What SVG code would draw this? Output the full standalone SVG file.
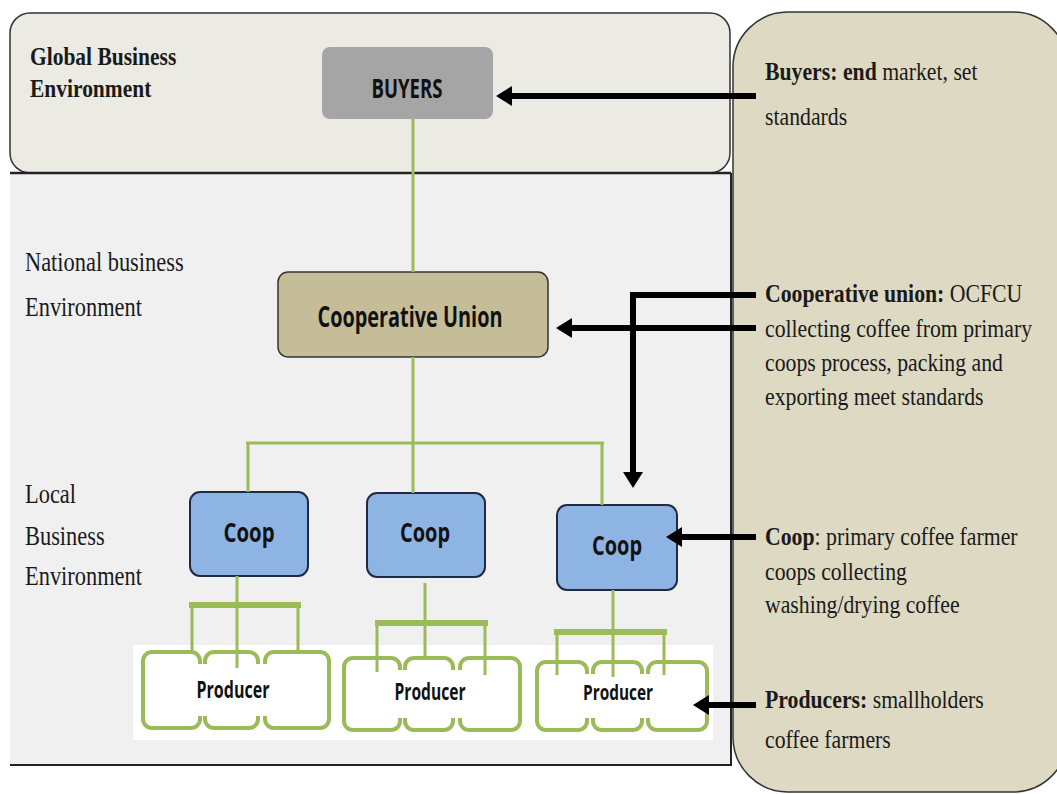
<svg xmlns="http://www.w3.org/2000/svg" width="1057" height="794" viewBox="0 0 1057 794">
<defs>
<style>
.lbl{font-family:"Liberation Serif","Times New Roman",serif;fill:#1a1a1a}
.b{font-weight:bold}
.box{font-family:"Open Sans","Liberation Sans",sans-serif;font-weight:bold;fill:#111;text-anchor:middle}
.g{stroke:#9bbb59;fill:none;stroke-width:3}
.gb{stroke:#9bbb59;fill:none;stroke-width:6}
.arr{stroke:#000;stroke-width:6;fill:none}
.prod{fill:#fff;stroke:#9bbb59;stroke-width:4}
.coop{fill:#8db4e2;stroke:#1f2a44;stroke-width:2}
</style>
<marker id="ah" markerUnits="userSpaceOnUse" markerWidth="16" markerHeight="20" refX="0" refY="10" orient="auto">
<path d="M0,0 L16,10 L0,20 z" fill="#000"/>
</marker>
</defs>
<rect width="1057" height="794" fill="#fff"/>
<g id="panels">
<rect x="733" y="12" width="335" height="780" rx="55" ry="55" fill="#ddd9c3" stroke="#333" stroke-width="1.5"/>
<rect x="10" y="173" width="721" height="592" fill="#f0f0f0"/>
<path d="M731,173 V765 H10" fill="none" stroke="#222" stroke-width="2"/>
<rect x="10" y="13" width="720" height="160" rx="20" ry="20" fill="#ecebe3" stroke="#333" stroke-width="1.5"/>
<line x1="10" y1="173" x2="731" y2="173" stroke="#222" stroke-width="2.5"/>
<rect x="133" y="645" width="580" height="95" fill="#fff"/>
</g>
<g id="left-labels">
<g transform="translate(30,0) scale(0.86,1)">
<text class="lbl b" x="0" y="65" font-size="25">Global Business</text>
<text class="lbl b" x="0" y="97" font-size="25">Environment</text>
</g>
<g transform="translate(25,0) scale(0.83,1)">
<text class="lbl" x="0" y="271" font-size="27">National business</text>
<text class="lbl" x="0" y="316" font-size="27">Environment</text>
<text class="lbl" x="0" y="503" font-size="27">Local</text>
<text class="lbl" x="0" y="545" font-size="27">Business</text>
<text class="lbl" x="0" y="585" font-size="27">Environment</text>
</g>
</g>
<g id="buyers">
<rect x="322" y="47" width="171" height="72" rx="8" fill="#a5a5a5"/>
<text class="box" x="407" y="98" font-size="27" textLength="71" lengthAdjust="spacingAndGlyphs">BUYERS</text>
</g>
<g id="union">
<rect x="278" y="272" width="270" height="85" rx="10" fill="#c4bd97" stroke="#333" stroke-width="1.5"/>
<text class="box" x="410" y="327" font-size="28" textLength="185" lengthAdjust="spacingAndGlyphs">Cooperative Union</text>
</g>
<g id="coop1">
<rect class="coop" x="190" y="492" width="118" height="84" rx="10"/>
<text class="box" x="249" y="542" font-size="26" textLength="51" lengthAdjust="spacingAndGlyphs">Coop</text>
</g>
<g id="coop2">
<rect class="coop" x="367" y="493" width="118" height="84" rx="10"/>
<text class="box" x="425" y="542" font-size="26" textLength="50" lengthAdjust="spacingAndGlyphs">Coop</text>
</g>
<g id="coop3">
<rect class="coop" x="557" y="505" width="120" height="85" rx="10"/>
<text class="box" x="617" y="555" font-size="26" textLength="50" lengthAdjust="spacingAndGlyphs">Coop</text>
</g>
<g id="producers1">
<rect class="prod" x="143" y="652" width="57" height="76" rx="9"/>
<rect class="prod" x="205" y="652" width="53" height="76" rx="9"/>
<rect class="prod" x="265" y="652" width="64" height="76" rx="9"/>
<rect x="147" y="664" width="178" height="52" fill="#fff"/>
<line class="g" x1="237" y1="576" x2="237" y2="668" stroke-width="5"/>
<line class="gb" x1="189" y1="605" x2="301" y2="605"/>
<line class="g" x1="192" y1="605" x2="192" y2="652" stroke-width="4"/>
<line class="g" x1="298" y1="605" x2="298" y2="652" stroke-width="4"/>
<text class="box" x="233" y="698" font-size="23" textLength="73" lengthAdjust="spacingAndGlyphs">Producer</text>
</g>
<g id="producers2">
<rect class="prod" x="344" y="658" width="56" height="72" rx="9"/>
<rect class="prod" x="405" y="658" width="48" height="72" rx="9"/>
<rect class="prod" x="460" y="658" width="60" height="72" rx="9"/>
<rect x="348" y="670" width="168" height="48" fill="#fff"/>
<line class="g" x1="425" y1="583" x2="425" y2="660" stroke-width="5"/>
<line class="gb" x1="375" y1="623" x2="488" y2="623" stroke-width="7"/>
<line class="g" x1="377" y1="623" x2="377" y2="672" stroke-width="4"/>
<line class="g" x1="485" y1="623" x2="485" y2="675" stroke-width="4"/>
<text class="box" x="430" y="700" font-size="23" textLength="71" lengthAdjust="spacingAndGlyphs">Producer</text>
</g>
<g id="producers3">
<rect class="prod" x="537" y="662" width="50" height="68" rx="9"/>
<rect class="prod" x="593" y="662" width="49" height="68" rx="9"/>
<rect class="prod" x="648" y="662" width="59" height="68" rx="9"/>
<rect x="541" y="674" width="162" height="44" fill="#fff"/>
<line class="g" x1="613" y1="590" x2="613" y2="677" stroke-width="5"/>
<line class="gb" x1="554" y1="632" x2="667" y2="632"/>
<line class="g" x1="557" y1="632" x2="557" y2="675" stroke-width="4"/>
<line class="g" x1="664" y1="632" x2="664" y2="675" stroke-width="4"/>
<text class="box" x="618" y="700" font-size="22" textLength="70" lengthAdjust="spacingAndGlyphs">Producer</text>
</g>
<g id="connectors">
<line class="g" x1="413" y1="119" x2="413" y2="272"/>
<line class="g" x1="413" y1="357" x2="413" y2="443"/>
<line class="g" x1="246" y1="443" x2="604" y2="443" stroke-width="4"/>
<line class="g" x1="248" y1="443" x2="248" y2="492"/>
<line class="g" x1="413" y1="443" x2="413" y2="493"/>
<line class="g" x1="602" y1="443" x2="602" y2="505"/>
<line class="arr" x1="756" y1="96" x2="512" y2="96" marker-end="url(#ah)"/>
<line class="arr" x1="756" y1="328" x2="572" y2="328" marker-end="url(#ah)"/>
<polyline class="arr" points="756,295 633,295 633,472" marker-end="url(#ah)"/>
<line class="arr" x1="756" y1="537" x2="682" y2="537" marker-end="url(#ah)"/>
<line class="arr" x1="756" y1="705" x2="709" y2="705" marker-end="url(#ah)"/>
</g>
<g id="right-labels" transform="translate(765,0) scale(0.87,1)">
<text class="lbl" x="0" y="80" font-size="25"><tspan class="b">Buyers: end</tspan> market, set</text>
<text class="lbl" x="0" y="125" font-size="25">standards</text>
<text class="lbl" x="0" y="302" font-size="25"><tspan class="b">Cooperative union:</tspan> OCFCU</text>
<text class="lbl" x="0" y="337" font-size="25">collecting coffee from primary</text>
<text class="lbl" x="0" y="371" font-size="25">coops process, packing and</text>
<text class="lbl" x="0" y="405" font-size="25">exporting meet standards</text>
<text class="lbl" x="0" y="545" font-size="25"><tspan class="b">Coop</tspan>: primary coffee farmer</text>
<text class="lbl" x="0" y="580" font-size="25">coops collecting</text>
<text class="lbl" x="0" y="613" font-size="25">washing/drying coffee</text>
<text class="lbl" x="0" y="708" font-size="25"><tspan class="b">Producers:</tspan> smallholders</text>
<text class="lbl" x="0" y="748" font-size="25">coffee farmers</text>
</g>
</svg>
